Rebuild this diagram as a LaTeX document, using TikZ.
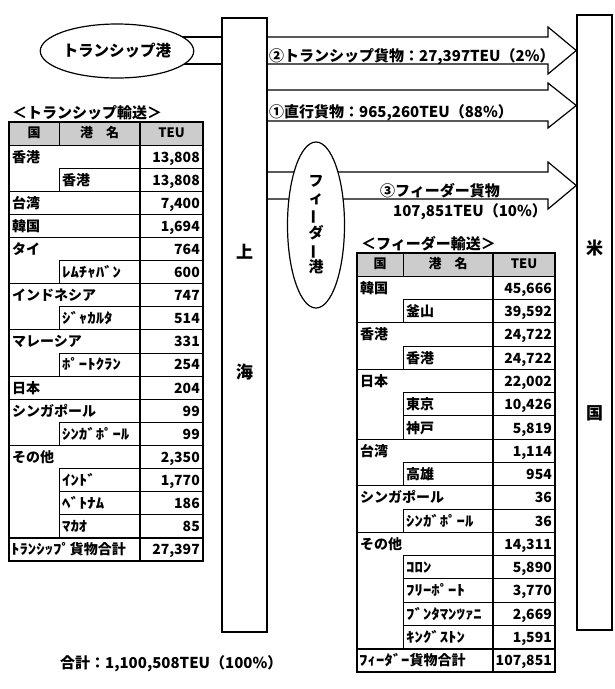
\documentclass[tikz,border=0pt]{standalone}
\usepackage{fontspec}
\setmainfont{Noto Sans CJK JP}
\usepackage{graphicx}
\usetikzlibrary{shapes.geometric}

\tikzset{
  portbox/.style={draw, line width=1.5pt, inner sep=0pt},
  port/.style={ellipse, draw, fill=white, line width=1.2pt, inner sep=0pt,
    font=\fontsize{15.5}{17}\selectfont\bfseries},
  flow/.style={line width=1.2pt, line join=miter},
  flowtext/.style={anchor=base west, inner sep=0pt, font=\fontsize{15}{15}\selectfont\bfseries},
  bigchar/.style={inner sep=0pt, font=\fontsize{17}{17}\selectfont\bfseries},
  caption/.style={anchor=base west, inner sep=0pt, font=\fontsize{15}{15}\selectfont\bfseries},
  frame/.style={line width=1.8pt},
  rowline/.style={line width=1pt},
  cell/.style={anchor=west, inner sep=0pt, text height=10.5pt, text depth=2pt,
    font=\fontsize{14}{14}\selectfont\bfseries},
  num/.style={cell, anchor=east},
  head/.style={cell, anchor=center, font=\fontsize{13}{13}\selectfont\bfseries}
}

% half-width kana, a bit wider
\newcommand{\hw}[1]{\scalebox{1.2}[1]{#1}}

% table rows: #1 row, #2 name, #3 TEU
\newcommand{\crow}[3]{%
  \draw[rowline] ({\colA},{\topY+#1*\rowH}) -- ({\colD},{\topY+#1*\rowH});
  \node[cell] (\tabP n#1) at ({\colA+3},{\topY+(#1+0.55)*\rowH}) {#2};
  \node[num] (\tabP v#1) at ({\colD-3},{\topY+(#1+0.55)*\rowH}) {#3};}
\newcommand{\srow}[3]{%
  \draw[rowline] ({\colB},{\topY+(#1+1)*\rowH}) -- ({\colB},{\topY+#1*\rowH}) -- ({\colD},{\topY+#1*\rowH});
  \node[cell] (\tabP n#1) at ({\colB+3},{\topY+(#1+0.55)*\rowH}) {#2};
  \node[num] (\tabP v#1) at ({\colD-3},{\topY+(#1+0.55)*\rowH}) {#3};}
\newcommand{\trow}[3]{%
  \draw[frame] ({\colA},{\topY+#1*\rowH}) -- ({\colD},{\topY+#1*\rowH});
  \node[cell] (\tabP n#1) at ({\colA+2},{\topY+(#1+0.55)*\rowH}) {#2};
  \node[num] (\tabP v#1) at ({\colD-3},{\topY+(#1+0.55)*\rowH}) {#3};}
\newcommand{\tabhead}{%
  \fill[gray!40] ({\colA},{\topY}) rectangle ({\colD},{\topY+\rowH});
  \node[head] (\tabP h1) at ({(\colA+\colB)/2},{\topY+0.5*\rowH}) {国};
  \node[head] (\tabP h2) at ({(\colB+\colC)/2},{\topY+0.5*\rowH}) {港\quad 名};
  \node[head] (\tabP h3) at ({(\colC+\colD)/2},{\topY+0.5*\rowH}) {TEU};
  \draw[rowline] ({\colB},{\topY}) -- ({\colB},{\topY+\rowH});}
\newcommand{\tabframe}[1]{%
  \draw[frame] ({\colC},{\topY}) -- ({\colC},{\topY+#1*\rowH});
  \draw[frame] ({\colA},{\topY}) rectangle ({\colD},{\topY+#1*\rowH});}

\begin{document}
\begin{tikzpicture}[x=1pt, y=-1pt]
  \useasboundingbox (0,0) rectangle (614,689);

  % Shanghai and the US
  \node[portbox, minimum width=45, minimum height=614] (sh) at (244.5,325) {};
  \node[bigchar] (shA) at (244.5,252) {上};
  \node[bigchar] (shB) at (244.5,372) {海};
  \node[portbox, minimum width=35, minimum height=615] (us) at (594.5,322.5) {};
  \node[bigchar] (usA) at (594.5,248) {米};
  \node[bigchar] (usB) at (594.5,413) {国};

  % Cargo arrows
  \draw[flow] (sh.east |- 0,37) -- (548,37) -- (548,27) -- (us.west |- 0,50.5)
    -- (548,74) -- (548,64) -- (sh.east |- 0,64);
  \draw[flow] (sh.east |- 0,90) -- (548,90) -- (548,83) -- (us.west |- 0,105.5)
    -- (548,128) -- (548,121) -- (sh.east |- 0,121);
  \draw[flow] (sh.east |- 0,172) -- (548,172) -- (548,162) -- (us.west |- 0,185.5)
    -- (548,209) -- (548,199) -- (sh.east |- 0,199);
  \node[flowtext] (lab2) at (269,61) {②トランシップ貨物：27,397TEU（2\%）};
  \node[flowtext] (lab1) at (269,117) {①直行貨物：965,260TEU（88\%）};
  \node[flowtext] (lab3) at (380,196) {③フィーダー貨物};
  \node[flowtext] (lab3v) at (393,216) {107,851TEU（10\%）};

  % Transship port
  \draw[flow] (117,37) -- (sh.west |- 0,37);
  \draw[flow] (117,64) -- (sh.west |- 0,64);
  \node[port, minimum width=130, minimum height=54] (ts) at (117,51) {トランシップ港};

  % Feeder port
  \node[port, minimum width=57, minimum height=166, align=center,
    font=\fontsize{15}{17}\selectfont\bfseries] (fd) at (316,225)
    {フ\\ィ\\\rotatebox[origin=c]{90}{ー}\\ダ\\\rotatebox[origin=c]{90}{ー}\\港};

  % Transship table
  \node[caption] (ltitle) at (12,118) {＜トランシップ輸送＞};
  \def\tabP{L}\def\colA{9}\def\colB{59}\def\colC{140}\def\colD{203}
  \def\topY{122}\def\rowH{23.1}
  \tabhead
  \crow{1}{香港}{13,808}
  \srow{2}{香港}{13,808}
  \crow{3}{台湾}{7,400}
  \crow{4}{韓国}{1,694}
  \crow{5}{タイ}{764}
  \srow{6}{\hw{ﾚﾑﾁｬﾊﾞﾝ}}{600}
  \crow{7}{インドネシア}{747}
  \srow{8}{\hw{ｼﾞｬｶﾙﾀ}}{514}
  \crow{9}{マレーシア}{331}
  \srow{10}{\hw{ﾎﾟｰﾄｸﾗﾝ}}{254}
  \crow{11}{日本}{204}
  \crow{12}{シンガポール}{99}
  \srow{13}{\hw{ｼﾝｶﾞﾎﾟｰﾙ}}{99}
  \crow{14}{その他}{2,350}
  \srow{15}{\hw{ｲﾝﾄﾞ}}{1,770}
  \srow{16}{\hw{ﾍﾞﾄﾅﾑ}}{186}
  \srow{17}{\hw{ﾏｶｵ}}{85}
  \trow{18}{\hw{ﾄﾗﾝｼｯﾌﾟ}貨物合計}{27,397}
  \tabframe{19}

  % Feeder table
  \node[caption] (rtitle) at (361,249) {＜フィーダー輸送＞};
  \def\tabP{R}\def\colA{357}\def\colB{403}\def\colC{493}\def\colD{555}
  \def\topY{253}\def\rowH{23.28}
  \tabhead
  \crow{1}{韓国}{45,666}
  \srow{2}{釜山}{39,592}
  \crow{3}{香港}{24,722}
  \srow{4}{香港}{24,722}
  \crow{5}{日本}{22,002}
  \srow{6}{東京}{10,426}
  \srow{7}{神戸}{5,819}
  \crow{8}{台湾}{1,114}
  \srow{9}{高雄}{954}
  \crow{10}{シンガポール}{36}
  \srow{11}{\hw{ｼﾝｶﾞﾎﾟｰﾙ}}{36}
  \crow{12}{その他}{14,311}
  \srow{13}{\hw{ｺﾛﾝ}}{5,890}
  \srow{14}{\hw{ﾌﾘｰﾎﾟｰﾄ}}{3,770}
  \srow{15}{\hw{ﾌﾞﾝﾀﾏﾝﾂｧﾆ}}{2,669}
  \srow{16}{\hw{ｷﾝｸﾞｽﾄﾝ}}{1,591}
  \trow{17}{\hw{ﾌｨｰﾀﾞｰ}貨物合計}{107,851}
  \tabframe{18}

  % Grand total
  \node[flowtext] (total) at (60,668) {合計：1,100,508TEU（100\%）};
\end{tikzpicture}
\end{document}
